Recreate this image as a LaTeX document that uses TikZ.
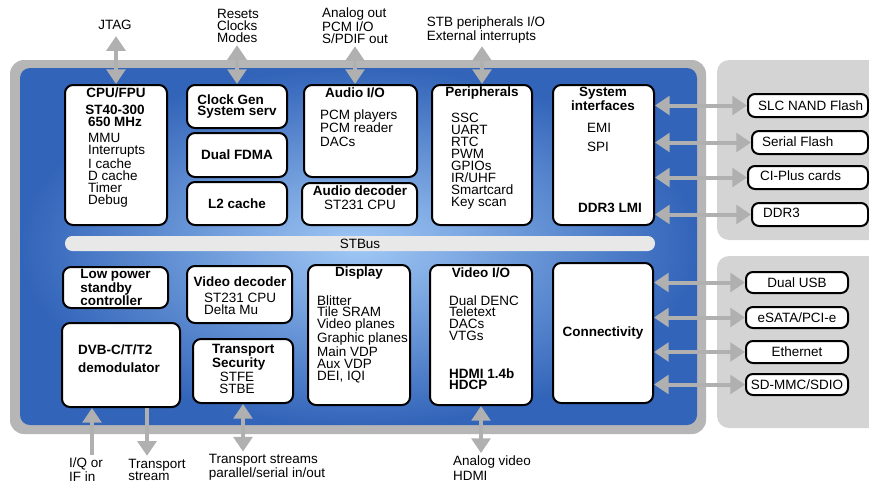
\documentclass[tikz,border=0pt]{standalone}
\usepackage{fontspec}
\setmainfont{Liberation Sans}
\usetikzlibrary{arrows.meta,fit}
\definecolor{chipgray}{RGB}{182,182,182}
\definecolor{panelgray}{RGB}{212,212,212}
\definecolor{arrowgray}{RGB}{176,176,176}
\definecolor{bluein}{RGB}{160,200,245}
\definecolor{blueout}{RGB}{50,100,185}
\definecolor{busgray}{RGB}{232,232,232}
\begin{document}
\begin{tikzpicture}[x=0.3mm, y=-0.3mm,
  every node/.style={font=\fontsize{11.5}{10.2}\selectfont, inner sep=0pt},
  blk/.style={draw, line width=0.6mm, rounded corners=2.4mm, fill=white},
  ext/.style={blk, rounded corners=2.1mm},
  ttl/.style={font=\fontsize{11.5}{10.2}\selectfont\bfseries},
  lst/.style={align=left, anchor=north west},
  lbl/.style={align=left, outer sep=0.9mm},
  io/.style={draw=arrowgray, line width=1.2mm, <->},
  >={Triangle[width=5.6mm,length=4.4mm]}]
\useasboundingbox (0,0) rectangle (869,483);
\clip (0,0) rectangle (869,483);

% chip frame and side panels
\fill[chipgray, rounded corners=4.2mm] (10,60) rectangle (706,434);
\shade[inner color=bluein, outer color=blueout, rounded corners=3mm] (20,68) rectangle (697,425);
\fill[panelgray, rounded corners=3.6mm] (717,60) rectangle (900,240);
\fill[panelgray, rounded corners=3.6mm] (717,256) rectangle (900,428);

\node[fill=busgray, rounded corners=2.2mm, fit={(65,236) (655,251)}] (stbus) {};
\node (stbustxt) at (stbus) {STBus};

% upper row
\node[blk, fit={(65,85) (167,225)}] (cpu) {};
\node[ttl] (cputtl) at (116,93) {CPU/FPU};
\node[ttl, align=center] (cpucore) at (115,116) {ST40-300\\650 MHz};
\node[lst] (cpulst) at (88,133) {MMU\\Interrupts\\I cache\\D cache\\Timer\\Debug};

\node[blk, fit={(187,85) (287,128)}] (clk) {};
\node[ttl, align=left] (clktxt) at (clk) {Clock Gen\\System serv};
\node[blk, fit={(187,133) (287,177)}] (fdma) {};
\node[ttl] (fdmatxt) at (fdma) {Dual FDMA};
\node[blk, fit={(187,182) (287,225)}] (l2) {};
\node[ttl] (l2txt) at (l2) {L2 cache};

\node[blk, fit={(304,85) (417,177)}] (audio) {};
\node[ttl] (audttl) at (355,93) {Audio I/O};
\node[lst, font=\fontsize{11.5}{11.9}\selectfont] (audlst) at (320,109) {PCM players\\PCM reader\\DACs};
\node[blk, fit={(302,183) (417,225)}] (adec) {};
\node[align=center, font=\fontsize{11.5}{11.9}\selectfont] (adectxt) at (360,198) {\textbf{Audio decoder}\\ST231 CPU};

\node[blk, fit={(432,85) (532,225)}] (peri) {};
\node[ttl] (perittl) at (482,93) {Peripherals};
\node[lst] (perilst) at (451,113) {SSC\\UART\\RTC\\PWM\\GPIOs\\IR/UHF\\Smartcard\\Key scan};

\node[blk, fit={(553,85) (654,225)}] (sysif) {};
\node[ttl, align=center] (systtl) at (603,98.5) {System\\interfaces};
\node[lst, font=\fontsize{11.5}{16.2}\selectfont] (syslst) at (587,123) {EMI\\SPI};
\node[ttl] (ddrlmi) at (610,208) {DDR3 LMI};

% lower row
\node[blk, fit={(63,267) (168,308)}] (lps) {};
\node[ttl, align=left] (lpstxt) at (lps) {Low power\\standby\\controller};
\node[blk, fit={(187,266) (292,323)}] (vdec) {};
\node[ttl] (vdecttl) at (240,282) {Video decoder};
\node[lst] (vdeclst) at (204,293) {ST231 CPU\\Delta Mu};

\node[blk, fit={(62,323) (180,407)}] (dvb) {};
\node[lst, font=\fontsize{11.5}{16.2}\selectfont\bfseries] (dvbtxt) at (78,344) {DVB-C/T/T2\\demodulator};
\node[blk, fit={(193,339) (293,403)}] (tsec) {};
\node[ttl, lst] (tsecttl) at (212,344) {Transport\\Security};
\node[align=center] (tseclst) at (237,383) {STFE\\STBE};

\node[blk, fit={(308,265) (410,405)}] (disp) {};
\node[ttl] (dispttl) at (359,273) {Display};
\node[lst] (displst) at (317,295) {Blitter\\Tile SRAM\\Video planes\\Graphic planes\\Main VDP\\Aux VDP\\DEI, IQI};

\node[blk, fit={(430,265) (532,405)}] (vio) {};
\node[ttl] (viottl) at (481,273) {Video I/O};
\node[lst] (violst) at (449,295) {Dual DENC\\Teletext\\DACs\\VTGs};
\node[ttl, lst] (hdmi) at (449,368) {HDMI 1.4b\\HDCP};

\node[blk, fit={(553,263) (653,403)}] (conn) {};
\node[ttl] (conntxt) at (conn) {Connectivity};

% external memories and ports
\node[ext, fit={(748,94) (868,117)}] (slc) {};
\node[anchor=west] (slctxt) at (758,105.5) {SLC NAND Flash};
\node[ext, fit={(752,131) (868,154)}] (sflash) {};
\node[anchor=west] (sflashtxt) at (762,142) {Serial Flash};
\node[ext, fit={(748,166) (868,189)}] (ciplus) {};
\node[anchor=west] (ciplustxt) at (760,176) {CI-Plus cards};
\node[ext, fit={(752,203) (868,226)}] (ddr) {};
\node[anchor=west] (ddrtxt) at (763,213) {DDR3};

\node[ext, fit={(746,272) (848,293)}] (usb) {};
\node (usbtxt) at (usb) {Dual USB};
\node[ext, fit={(746,307) (848,328)}] (sata) {};
\node (satatxt) at (sata) {eSATA/PCI-e};
\node[ext, fit={(746,341) (848,363)}] (eth) {};
\node (ethtxt) at (eth) {Ethernet};
\node[ext, fit={(746,374) (848,395)}] (sd) {};
\node (sdtxt) at (sd) {SD-MMC/SDIO};

% pin labels
\node[lbl] (jtag) at (115,25) {JTAG};
\node[lbl] (rst) at (238,25.5) {Resets\\Clocks\\Modes};
\node[lbl] (aout) at (355,25.5) {Analog out\\PCM I/O\\S/PDIF out};
\node[lbl] (stb) at (486,30) {STB peripherals I/O\\External interrupts};
\node[lbl] (iq) at (86,469.5) {I/Q or\\IF in};
\node[lbl] (tstr) at (157,469.5) {Transport\\stream};
\node[lbl] (tsio) at (267,467.5) {Transport streams\\parallel/serial in/out};
\node[lbl, font=\fontsize{11.5}{12.8}\selectfont] (avid) at (492,468.5) {Analog video\\HDMI};

% connections
\draw[io, shorten >=1mm] (cpu.north) -- (cpu.north |- jtag.south);
\draw[io] (clk.north) -- (clk.north |- rst.south);
\draw[io] (aout.south) -- (aout.south |- audio.north);
\draw[io] (peri.north) -- (peri.north |- stb.south);
\foreach \b in {slc,sflash,ciplus,ddr}
  \draw[io] (sysif.east |- \b.west) -- (\b.west);
\foreach \b in {usb,sata,eth,sd}
  \draw[io] (conn.east |- \b.west) -- (\b.west);
\draw[io, ->] ([xshift=1.8mm]iq.north) -- ([xshift=1.8mm]iq.north |- dvb.south);
\draw[io, ->] ([xshift=-3mm]tstr.north |- dvb.south) -- ([xshift=-3mm]tstr.north);
\draw[io] (tsec.south) -- (tsec.south |- tsio.north);
\draw[io] (vio.south) -- (vio.south |- avid.north);
\end{tikzpicture}
\end{document}
